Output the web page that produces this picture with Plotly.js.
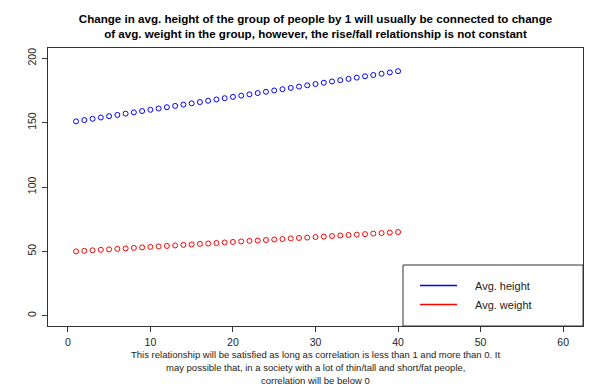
<!DOCTYPE html>
<html>
<head>
<meta charset="utf-8">
<script src="https://cdn.plot.ly/plotly-3.0.1.min.js"></script>
<style>html,body{margin:0;padding:0;background:#fff;}#chart{width:609px;height:386px;}</style>
</head>
<body>
<div id="chart"></div>
<script>
const groupIndex = [1,2,3,4,5,6,7,8,9,10,11,12,13,14,15,16,17,18,19,20,21,22,23,24,25,26,27,28,29,30,31,32,33,34,35,36,37,38,39,40];
const avgHeight = [151,152,153,154,155,156,157,158,159,160,161,162,163,164,165,166,167,168,169,170,171,172,173,174,175,176,177,178,179,180,181,182,183,184,185,186,187,188,189,190];
const avgWeight = [50.0,50.4,50.8,51.2,51.5,51.9,52.3,52.7,53.1,53.5,53.8,54.2,54.6,55.0,55.4,55.8,56.1,56.5,56.9,57.3,57.7,58.1,58.4,58.8,59.2,59.6,60.0,60.4,60.7,61.1,61.5,61.9,62.3,62.7,63.0,63.4,63.8,64.2,64.6,65.0];
const xTicks = [0,10,20,30,40,50,60];
const yTicks = [0,50,100,150,200];
const legendLabels = ["Avg. height","Avg. weight"];
const seriesColors = ["blue","red"];
const titleText = "Change in avg. height of the group of people by 1 will usually be connected to change<br>of avg. weight in the group, however, the rise/fall relationship is not constant";
const captionLines = [
  "This relationship will be satisfied as long as correlation is less than 1 and more than 0. It",
  "may possible that, in a society with a lot of thin/tall and short/fat people,",
  "correlation will be below 0"
];

const font = "Liberation Sans, Arial, sans-serif";

const traces = [
  {x: groupIndex, y: avgHeight, mode: "markers", type: "scatter", name: legendLabels[0],
   marker: {symbol: "circle-open", size: 5, color: seriesColors[0], line: {width: 1, color: seriesColors[0]}}, showlegend: false},
  {x: groupIndex, y: avgWeight, mode: "markers", type: "scatter", name: legendLabels[1],
   marker: {symbol: "circle-open", size: 5, color: seriesColors[1], line: {width: 1, color: seriesColors[1]}}, showlegend: false}
];

const W = 609, H = 386, mL = 48, mR = 26, mT = 48, mB = 60;
const pw = W - mL - mR, ph = H - mT - mB;
const px = v => (v - mL) / pw;
const py = v => 1 - (v - mT) / ph;

const shapes = [
  {type: "rect", xref: "paper", yref: "paper", x0: px(403), x1: 1, y0: 0, y1: py(265),
   line: {color: "#333", width: 1}, fillcolor: "white", layer: "above"},
  {type: "line", xref: "paper", yref: "paper", x0: px(420), x1: px(457), y0: py(285.5), y1: py(285.5),
   line: {color: seriesColors[0], width: 1.5}, layer: "above"},
  {type: "line", xref: "paper", yref: "paper", x0: px(420), x1: px(457), y0: py(304.5), y1: py(304.5),
   line: {color: seriesColors[1], width: 1.5}, layer: "above"}
];

const annotations = [
  {xref: "paper", yref: "paper", x: px(473), y: py(285.5), xanchor: "left", yanchor: "middle",
   text: legendLabels[0], showarrow: false, font: {family: font, size: 11, color: "#222"}},
  {xref: "paper", yref: "paper", x: px(473), y: py(304.5), xanchor: "left", yanchor: "middle",
   text: legendLabels[1], showarrow: false, font: {family: font, size: 11, color: "#222"}}
];
const captionY = [354, 367, 380];
captionLines.forEach((t, i) => annotations.push({
  xref: "paper", yref: "paper", x: 0.5, y: py(captionY[i]), xanchor: "center", yanchor: "middle",
  text: t, showarrow: false, font: {family: font, size: 9.5, color: "#222"}
}));

const layout = {
  width: W, height: H,
  margin: {l: mL, r: mR, t: mT, b: mB, pad: 0},
  paper_bgcolor: "white", plot_bgcolor: "white",
  title: {text: titleText, font: {family: font, size: 11.6, color: "black", weight: "bold"},
          x: 0.5, xref: "paper", y: 1 - 23/H, yref: "container", yanchor: "top"},
  xaxis: {range: [-2.4, 62.4], tickvals: xTicks, ticktext: xTicks.map(String), ticks: "outside", ticklen: 5,
          tickcolor: "#333", showgrid: false, zeroline: false, showline: true, mirror: true,
          linecolor: "#333", linewidth: 1, ticklabelstandoff: 1, tickfont: {family: font, size: 10.5, color: "#222"}},
  yaxis: {range: [-8, 208], tickvals: yTicks, ticktext: yTicks.map(String), ticks: "outside", ticklen: 5,
          tickcolor: "#333", tickangle: -90, showgrid: false, zeroline: false, showline: true, mirror: true,
          linecolor: "#333", linewidth: 1, ticklabelstandoff: 2, tickfont: {family: font, size: 10.5, color: "#222"}},
  shapes: shapes,
  annotations: annotations,
  showlegend: false
};

Plotly.newPlot("chart", traces, layout, {displayModeBar: false, staticPlot: true});
</script>
</body>
</html>
